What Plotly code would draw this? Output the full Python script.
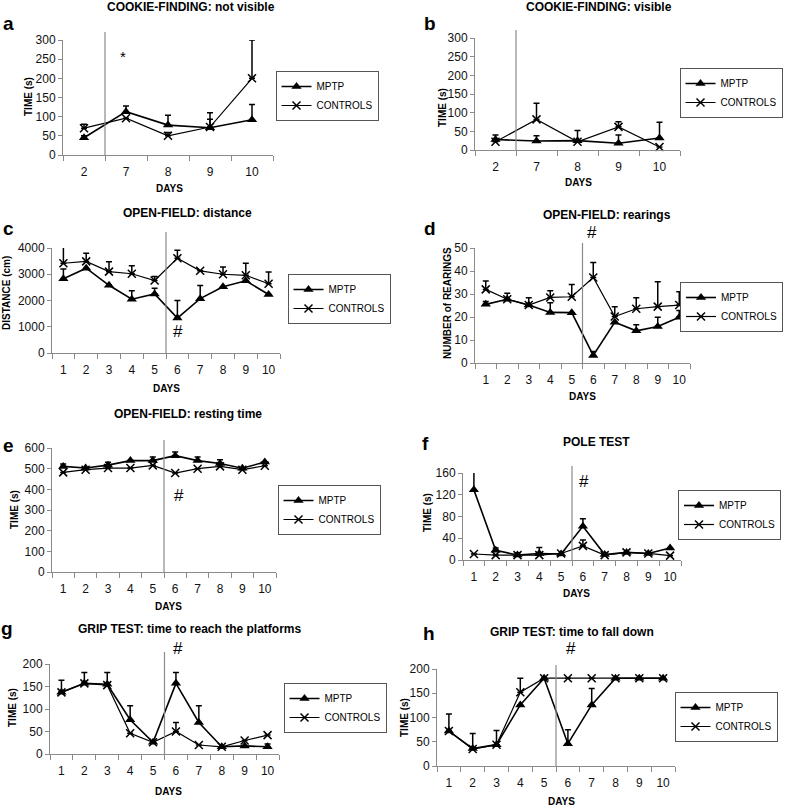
import plotly.graph_objects as go

W, H = 785, 808
FONT = "Liberation Sans, Arial, sans-serif"

# ---------------- data ----------------
days_cookie = ["2", "7", "8", "9", "10"]
days_all = ["1", "2", "3", "4", "5", "6", "7", "8", "9", "10"]

a_mptp = [45, 113, 78, 71, 92]
a_mptp_err = [5, 15, 26, 39, 40]
a_ctrl = [70, 96, 50, 73, 200]
a_ctrl_err = [10, 0, 9, 20, 100]

b_mptp = [28, 24, 25, 18, 32]
b_mptp_err = [0, 14, 0, 22, 42]
b_ctrl = [22, 82, 22, 62, 8]
b_ctrl_err = [18, 43, 30, 14, 0]

c_mptp = [2830, 3230, 2580, 2050, 2250, 1330, 2070, 2520, 2750, 2230]
c_mptp_err = [370, 0, 0, 320, 220, 670, 500, 0, 0, 0]
c_ctrl = [3420, 3490, 3100, 3020, 2760, 3610, 3130, 3000, 2960, 2640]
c_ctrl_err = [610, 310, 380, 300, 150, 300, 0, 280, 460, 450]

d_mptp = [25.5, 27.7, 25.2, 22, 21.9, 3.3, 17.7, 14, 15.9, 19.9]
d_mptp_err = [1.2, 0, 0, 4.2, 0, 1.7, 0, 2.6, 4, 2.9]
d_ctrl = [32, 27.7, 25.2, 28.5, 28.8, 37.2, 20.2, 23.6, 24.5, 25.2]
d_ctrl_err = [3.7, 2.6, 3.2, 2.9, 5.3, 6.5, 4.3, 4.8, 10.8, 5.8]

e_mptp = [511, 503, 517, 539, 539, 563, 539, 525, 502, 532]
e_mptp_err = [12, 0, 14, 0, 17, 18, 17, 18, 0, 0]
e_ctrl = [482, 495, 503, 503, 516, 479, 500, 511, 495, 514]
e_ctrl_err = [0, 0, 0, 0, 0, 0, 0, 0, 0, 0]

f_mptp = [129, 18, 9, 12, 11, 62, 10, 14, 12, 22]
f_mptp_err = [34, 4, 0, 11, 0, 14, 0, 0, 0, 0]
f_ctrl = [11, 9, 9, 9, 12, 26, 9, 14, 12, 8]
f_ctrl_err = [0, 0, 4, 0, 0, 11, 0, 0, 0, 0]

g_mptp = [137, 157, 155, 76, 26, 157, 70, 16, 18, 16]
g_mptp_err = [0, 0, 0, 31, 0, 24, 37, 0, 0, 6]
g_ctrl = [137, 157, 153, 46, 26, 50, 20, 16, 30, 42]
g_ctrl_err = [27, 24, 28, 0, 0, 20, 0, 0, 0, 0]

h_mptp = [72, 36, 44, 126, 181, 46, 126, 181, 181, 181]
h_mptp_err = [0, 0, 0, 0, 0, 29, 34, 0, 0, 0]
h_ctrl = [72, 35, 44, 152, 181, 181, 181, 181, 181, 181]
h_ctrl_err = [35, 32, 29, 29, 0, 0, 0, 0, 0, 0]

titles = ["COOKIE-FINDING: not visible", "COOKIE-FINDING: visible",
          "OPEN-FIELD: distance", "OPEN-FIELD: rearings",
          "OPEN-FIELD: resting time", "POLE TEST",
          "GRIP TEST: time to reach the platforms", "GRIP TEST: time to fall down"]
letters = ["a", "b", "c", "d", "e", "f", "g", "h"]
ytitles = ["TIME (s)", "TIME (s)", "DISTANCE (cm)", "NUMBER of REARINGS",
           "TIME (s)", "TIME (s)", "TIME (s)", "TIME (s)"]
ymax = [300, 300, 4000, 50, 600, 160, 200, 200]
ydtick = [50, 50, 1000, 10, 100, 40, 50, 50]

panels = [
    (days_cookie, a_mptp, a_mptp_err, a_ctrl, a_ctrl_err),
    (days_cookie, b_mptp, b_mptp_err, b_ctrl, b_ctrl_err),
    (days_all, c_mptp, c_mptp_err, c_ctrl, c_ctrl_err),
    (days_all, d_mptp, d_mptp_err, d_ctrl, d_ctrl_err),
    (days_all, e_mptp, e_mptp_err, e_ctrl, e_ctrl_err),
    (days_all, f_mptp, f_mptp_err, f_ctrl, f_ctrl_err),
    (days_all, g_mptp, g_mptp_err, g_ctrl, g_ctrl_err),
    (days_all, h_mptp, h_mptp_err, h_ctrl, h_ctrl_err),
]
# boundary (category index) of the vertical separator line
sep_after = [1, 1, 5, 5, 5, 5, 5, 5]

# ---------------- layout geometry (pixels) ----------------
# plot area: x0, x1, ytop, ybottom
areas = [(63, 273, 40, 155), (475, 680, 38, 150),
         (52, 280, 248, 353), (475, 690, 248, 363),
         (52, 276, 448, 572), (463, 681, 473, 560),
         (50, 279, 664, 754), (437, 675, 669, 766)]
sep_top = [32, 30, 232, 243, 440, 466, 652, 665]
# legend box: (x, y, xanchor) ; y is the vertical centre
legend_pos = [(327, 96, "center"), (731, 93, "center"), (339, 299, "center"),
              (783, 307, "right"), (329, 510, "center"), (781, 515, "right"),
              (335, 708, "center"), (726, 717, "center")]
title_pos = [(191, 7), (599, 7), (187, 213), (607, 215),
             (188, 414), (596, 442), (189, 629), (572, 632)]
letter_pos = [(8, 23), (430, 23), (8, 229), (430, 229),
              (8, 445), (425, 443), (7, 628), (429, 633)]
ytitle_pos = [(28, 97), (442, 108), (6, 293), (447, 303),
              (14, 510), (427, 513), (12, 708), (404, 718)]
days_pos = [(169, 188), (578, 183), (166, 388), (582, 396),
            (168, 606), (576, 593), (168, 791), (561, 801)]
marks = [("*", 123, 56, 15), ("#", 178, 332, 17), ("#", 592, 233, 17),
         ("#", 179, 495, 17), ("#", 584, 481, 17), ("#", 178, 648, 17),
         ("#", 571, 648, 17)]


def PX(x):
    return x / W


def PY(y):
    return 1 - y / H


def ann(text, x, y, size, angle=0):
    return dict(text=text, x=PX(x), y=PY(y), xref="paper", yref="paper",
                xanchor="center", yanchor="middle", showarrow=False,
                textangle=angle, font=dict(size=size, family=FONT, color="black"))


fig = go.Figure()
layout = dict(width=W, height=H,
              margin=dict(l=0, r=0, t=0, b=0, pad=0, autoexpand=False),
              autosize=False, paper_bgcolor="white", plot_bgcolor="white",
              font=dict(family=FONT, color="black"), showlegend=True,
              hovermode=False)
annotations = []
shapes = []

for i, (days, mp, mpe, ct, cte) in enumerate(panels):
    n = len(days)
    sfx = "" if i == 0 else str(i + 1)
    xa, ya = "x" + sfx, "y" + sfx
    lg = "legend" + sfx
    xs = list(range(1, n + 1))
    fig.add_trace(go.Scatter(
        x=xs, y=mp, xaxis=xa, yaxis=ya, name="MPTP", legend=lg,
        mode="lines+markers", line=dict(color="black", width=1.6),
        marker=dict(symbol="triangle-up", size=9, color="black"),
        error_y=dict(type="data", array=mpe, arrayminus=[0] * n, symmetric=False,
                     color="black", thickness=1.5, width=3),
        cliponaxis=False))
    fig.add_trace(go.Scatter(
        x=xs, y=ct, xaxis=xa, yaxis=ya, name="CONTROLS", legend=lg,
        mode="lines+markers", line=dict(color="black", width=1.2),
        marker=dict(symbol="x-thin-open", size=8, color="black",
                    line=dict(color="black", width=1.5)),
        error_y=dict(type="data", array=cte, arrayminus=[0] * n, symmetric=False,
                     color="black", thickness=1.5, width=3),
        cliponaxis=False))

    x0, x1, yt, yb = areas[i]
    axis_name = "xaxis" + sfx
    yaxis_name = "yaxis" + sfx
    layout[axis_name] = dict(
        domain=[PX(x0), PX(x1)], anchor=ya, range=[0.5, n + 0.5],
        tickvals=xs, ticktext=days, ticks="outside", ticklen=6,
        tickcolor="rgba(0,0,0,0)", showline=True, linecolor="#8a8a8a",
        linewidth=1, showgrid=False, zeroline=False, fixedrange=True,
        tickfont=dict(size=12, family=FONT, color="#111"),
        minor=dict(tickvals=[k + 0.5 for k in range(0, n + 1)], ticks="outside",
                   ticklen=5, tickcolor="#8a8a8a", showgrid=False))
    layout[yaxis_name] = dict(
        domain=[PY(yb), PY(yt)], anchor=xa, range=[0, ymax[i]],
        dtick=ydtick[i], tick0=0, ticks="outside", ticklen=4,
        tickcolor="#8a8a8a", showline=True, linecolor="#8a8a8a", linewidth=1,
        showgrid=False, zeroline=False, fixedrange=True,
        tickfont=dict(size=12, family=FONT, color="#111"))

    lx, ly, lanchor = legend_pos[i]
    layout[lg] = dict(x=PX(lx), y=PY(ly), xanchor=lanchor, yanchor="middle",
                      bordercolor="#555", borderwidth=1, bgcolor="white",
                      font=dict(size=10, family=FONT, color="black"),
                      itemwidth=30, tracegroupgap=0)

    # vertical separator line
    frac_top = (yb - sep_top[i]) / (yb - yt)
    shapes.append(dict(type="line", xref=xa, yref=ya + " domain",
                       x0=sep_after[i] + 0.5, x1=sep_after[i] + 0.5,
                       y0=0, y1=frac_top, line=dict(color="#8a8a8a", width=1.2)))

    tx, ty = title_pos[i]
    annotations.append(ann("<b>" + titles[i] + "</b>", tx, ty, 12))
    lx2, ly2 = letter_pos[i]
    annotations.append(ann("<b>" + letters[i] + "</b>", lx2, ly2, 19))
    yx, yy = ytitle_pos[i]
    annotations.append(ann("<b>" + ytitles[i] + "</b>", yx, yy, 10, -90))
    dx, dy = days_pos[i]
    annotations.append(ann("<b>DAYS</b>", dx, dy, 10))

for t, mx, my, fs in marks:
    annotations.append(ann(t, mx, my, fs))

layout["annotations"] = annotations
layout["shapes"] = shapes
fig.update_layout(**layout)
fig.write_html("out.html", config={"displayModeBar": False},
               post_script="document.body.style.margin='0px';"
                           "document.body.style.overflow='hidden';")
